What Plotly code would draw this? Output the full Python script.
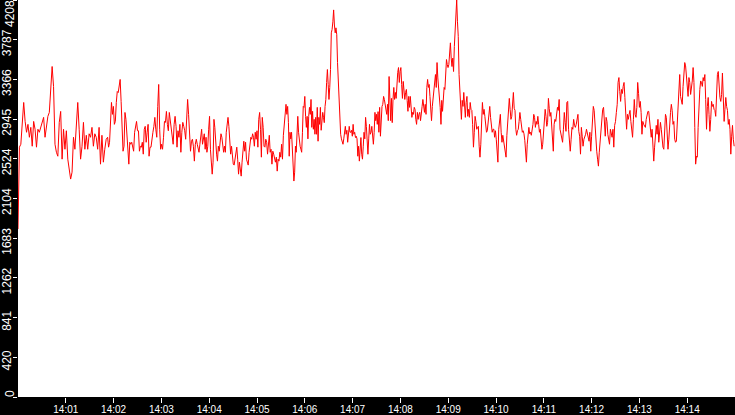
import numpy as np
import pandas as pd
import plotly.graph_objects as go

# readings taken off the chart, one list per 112.5 s window (90 px of plot)
seg_1 = [1780, 2648, 2679, 2921, 3122, 2921, 2806, 2890, 2753, 2858, 2658, 2921, 2838, 2648, 2838, 2806,
         2869, 2921, 2964, 2753, 2869, 2975, 3016, 3238, 3503, 3290, 2679, 2594, 2552, 2911, 3027, 2521,
         2838, 2626, 2822, 2521, 2415, 2310, 2383, 2753, 2626, 2858, 3122, 2838, 2521, 2658, 2911, 2626,
         2774, 2626, 2790, 2753, 2858, 2658, 2790, 2753, 2626, 2858, 2468, 2774, 2489, 2626, 2732]
seg_2 = [2753, 2648, 2700, 2943, 3122, 2996, 3080, 2890, 2921, 3122, 3238, 3227, 3290, 3366, 3133, 2732,
         2605, 2658, 3016, 2943, 2806, 2574, 2468, 2700, 2679, 2700, 2658, 2605, 2806, 2890, 2921, 2822,
         2822, 2605, 2658, 2648, 2700, 2574, 2838, 2869, 2700, 2806, 2890, 2552, 2648, 2648, 2753, 2806,
         2869, 2964, 2838, 2753, 3080, 3313, 2838, 2626, 2679, 2626, 2753, 2921, 2911, 3027, 2890, 2822,
         3016, 2911, 2822, 2774, 2679, 2890, 2975, 2869, 2648, 2822, 2753, 2890, 2594, 2806, 2911, 2869,
         2822, 2732, 2964, 3154, 2996, 2753, 2605, 2711, 2732, 2658, 2500, 2679, 2732]
seg_3 = [2679, 2648, 2594, 2679, 2774, 2838, 2679, 2753, 2790, 2626, 2753, 2594, 2658, 2838, 2975, 2626,
         2468, 2362, 2489, 2943, 2858, 2679, 2574, 2500, 2658, 2605, 2700, 2790, 2753, 2658, 2594, 2658,
         2594, 2806, 2921, 2964, 2869, 2679, 2574, 2658, 2552, 2468, 2458, 2542, 2594, 2648, 2521, 2362,
         2489, 2415, 2341, 2489, 2594, 2711, 2605, 2700, 2521, 2489, 2458, 2594, 2679, 2753, 2732, 2790,
         2753, 2658, 2806, 2732, 2822, 2648, 2943, 3016, 2838, 2542, 2964, 2858, 2658, 2648, 2732, 2700,
         2574, 2658, 2774, 2594, 2626, 2468, 2605, 2574, 2521, 2489, 2542, 2394, 2521, 2500, 2594, 2542,
         2679, 2521, 2774, 2890, 2975, 3102]
seg_4 = [2996, 3080, 2908, 2552, 2806, 2736, 2806, 2594, 2542, 2289, 2383, 2658, 2594, 2943, 2975, 2806,
         2679, 2658, 2626, 2594, 2806, 3080, 3070, 3186, 2975, 2858, 2975, 2736, 2975, 3070, 2996, 3154,
         2858, 3028, 2838, 2943, 2785, 2964, 2785, 3070, 2711, 2964, 2890, 3070, 2827, 2975, 3017, 2964,
         2908, 3080, 3154, 3334, 3471, 3313, 3154, 3281, 3471, 3860, 3895, 3977, 4103, 3943, 3860, 3913,
         3840, 3545, 3366, 3080, 2838, 2785, 2736, 2700, 2679, 2736, 2806, 2869, 2785, 2827, 2700, 2806,
         2869, 2806, 2806, 2827, 2764, 2890, 2785, 2806, 2750, 2764, 2736, 2552, 2658, 2500, 2700, 2750,
         2573, 2521, 2658, 2806, 2736, 2964, 2869, 2711, 2573, 2736, 2890, 2785, 2806, 2869, 2750, 2679,
         2806, 3017, 2929]
seg_5 = [2996, 2890, 3025, 2806, 3070, 2764, 2943, 3080, 3102, 3186, 3154, 3102, 3080, 2996, 3102, 2929,
         3397, 3154, 2929, 3165, 2908, 3154, 3281, 3154, 3228, 3165, 3345, 3439, 3492, 3334, 3450, 3492,
         3313, 3165, 3345, 3260, 3154, 3228, 3260, 3144, 3028, 3186, 3070, 3186, 3017, 2964, 3017, 2996,
         3070, 3049, 2943, 2890, 3017, 2943, 2996, 3017, 2929, 3049, 3080, 3154, 3049, 3017, 3102, 2996,
         3281, 3366, 3281, 3313, 3186, 3070, 2929, 3080, 3154, 3281, 3366, 3418, 3281, 3545, 3382, 3292,
         3228, 3070, 2890, 3144, 3028, 3207, 3281, 3260, 3418, 3577, 3524, 3492, 3524, 3650, 3754, 3592,
         3503, 3592, 3450, 3714, 3945, 4103, 4208, 3977, 3822, 3418, 3281, 3154, 2943, 3144, 3080, 3228,
         2996, 2964]
seg_6 = [3122, 3186, 2975, 3049, 2964, 3122, 3049, 3038, 2890, 2648, 2806, 2975, 2921, 2838, 2858, 2869,
         2658, 2542, 2679, 2964, 3122, 2996, 3049, 2975, 2869, 2806, 2822, 2890, 3016, 3080, 2964, 2869,
         2806, 2838, 2838, 2753, 2822, 2732, 2594, 2489, 2838, 2943, 2996, 2806, 2700, 2774, 2700, 2679,
         2594, 2542, 2774, 2943, 3133, 3165, 3049, 2943, 2975, 3122, 3228, 3060, 3038, 2838, 2774, 2822,
         2838, 2921, 3016, 2943, 2838, 2806, 2822, 2790, 2721, 2552, 2489, 2679, 2753, 2858, 2790, 2806,
         2774, 2822, 2890, 2996, 2964, 2858, 2921, 2890, 2975, 2890, 2806, 2838, 2732, 2626, 2679, 2838,
         2943, 3049, 2975, 2869, 2911, 3165, 3060, 2975, 3016, 2869, 2721, 2605, 2890, 2943]
seg_7 = [2921, 2996, 3070, 3038, 3154, 2838, 2785, 2753, 2700, 2838, 3016, 2911, 2816, 3122, 3133, 2838,
         2648, 2605, 2732, 2858, 2838, 2943, 2879, 2858, 2890, 2964, 2996, 2816, 2764, 2574, 2858, 2764,
         2658, 2732, 2753, 2785, 2838, 2785, 2732, 2711, 2806, 2605, 2764, 2943, 3080, 3038, 2858, 2785,
         2605, 2521, 2447, 2594, 2711, 2764, 2890, 3049, 3070, 2838, 2764, 2964, 2921, 2785, 2732, 2679,
         2838, 2785, 2753, 2838, 2648, 2879, 2921, 3016, 3102, 3334, 3386, 3238, 3133, 3260, 3217, 3292,
         3334, 3175, 3049, 2838, 2996, 2943, 2996, 3038, 2921, 2806, 2753, 2943, 3154, 2996, 2964, 3070,
         3334, 3217, 3070, 3133, 3016, 2785, 2921, 2890, 2879]
seg_8 = [2858, 2943, 2996, 3027, 3027, 2943, 2838, 2753, 2838, 2626, 2500, 2648, 2764, 2879, 2785, 2943,
         2700, 2890, 2911, 2838, 2732, 2648, 2626, 2921, 2996, 2964, 2806, 2626, 2732, 2911, 3016, 3102,
         3038, 2890, 2921, 2732, 2700, 2711, 2879, 2975, 3102, 3418, 3186, 3122, 3102, 3292, 3418, 3545,
         3510, 3397, 3292, 3186, 3386, 3334, 3207, 3275, 3350, 3492, 3334, 2858, 2468, 2553, 2542, 2858,
         3154, 3260, 3350, 3334, 3292, 3386, 3350, 3418, 3154, 2838, 3080, 3175, 2996, 2816, 2943, 3133,
         3080, 3102, 3049, 3038, 2975, 3207, 3418, 3450, 3260, 3175, 3133, 3207, 3434, 3186, 2921, 3049,
         3175, 3080, 3038, 2890, 2943, 2838, 2574, 2764, 2879, 2732, 2658]
segments = [seg_1, seg_2, seg_3, seg_4, seg_5, seg_6, seg_7, seg_8]

y_ticks = [0, 420.8, 841.6, 1262.4, 1683.2, 2104, 2524.8, 2945.6, 3366.4, 3787.2, 4208]
y_labels = ["0", "420", "841", "1262", "1683", "2104", "2524", "2945", "3366", "3787", "4208"]
x_labels = ["14:01", "14:02", "14:03", "14:04", "14:05", "14:06", "14:07",
            "14:08", "14:09", "14:10", "14:11", "14:12", "14:13", "14:14"]

day = "2024-01-01 "
t0 = pd.Timestamp(day + "14:00:00")
t1 = pd.Timestamp(day + "14:15:00")
window_s = (t1 - t0).total_seconds() / len(segments)

secs, values = [], []
for k, seg in enumerate(segments):
    step = window_s / len(seg)
    for j, v in enumerate(seg):
        secs.append(k * window_s + j * step)
        values.append(v)
times = (t0 + pd.to_timedelta(np.array(secs), unit="s")).strftime("%Y-%m-%d %H:%M:%S.%f").str[:-3]

fig = go.Figure(go.Scatter(x=list(times), y=values, mode="lines",
                           line=dict(color="#ff0000", width=1), hoverinfo="skip"))

x_font = dict(family="Liberation Sans", size=10, color="white")
y_font = dict(family="Liberation Sans Narrow, Liberation Sans", size=12, color="white")

# end labels would be clipped by the page edge, so they are drawn as annotations
y_text = [""] + y_labels[1:-1] + [""]
ends = [(y_ticks[0], y_labels[0], 3), (y_ticks[-1], y_labels[-1], -14)]
for val, lab, shift in ends:
    fig.add_annotation(x=0, xref="paper", y=val, yref="y", text=lab, textangle=-90,
                       showarrow=False, xanchor="center", yanchor="middle",
                       xshift=-8, yshift=shift, font=y_font)

fig.update_layout(
    width=735, height=415,
    margin=dict(l=15, r=0, t=0, b=16, pad=0),
    paper_bgcolor="black", plot_bgcolor="white",
    showlegend=False,
)
fig.update_xaxes(
    type="date", range=[str(t0), str(t1)],
    tickvals=[day + s for s in x_labels], ticktext=x_labels,
    ticks="outside", ticklen=5, tickwidth=1, tickcolor="white",
    tickfont=x_font, ticklabelstandoff=-2,
    showgrid=False, zeroline=False, showline=False,
)
fig.update_yaxes(
    range=[0, 4208], tickvals=y_ticks, ticktext=y_text, tickangle=-90,
    ticks="outside", ticklen=4, tickwidth=1, tickcolor="white",
    tickfont=y_font, ticklabelshift=5, ticklabelstandoff=-3,
    showgrid=False, zeroline=False, showline=False,
)

# page has a default body margin; drop it so the chart fills the window
fig.write_html("out.html", config={"displayModeBar": False},
               post_script="document.body.style.margin='0';document.body.style.overflow='hidden';")
